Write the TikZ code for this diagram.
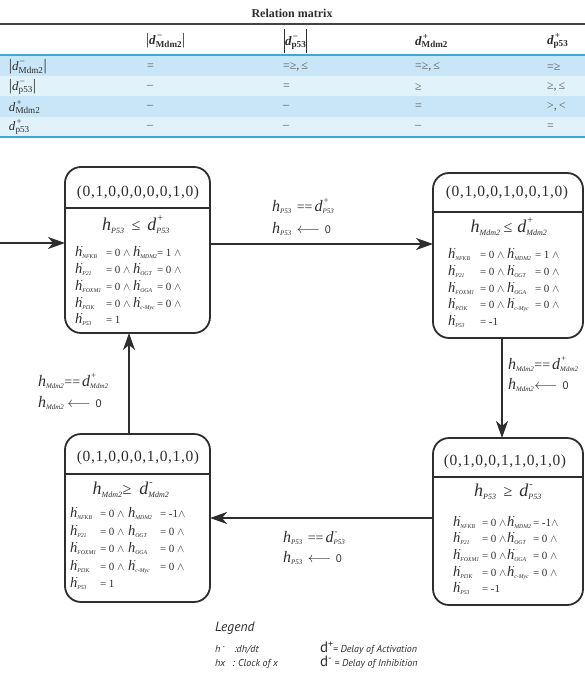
\documentclass[tikz,border=0pt]{standalone}
\usepackage{fontspec}
\setmainfont{Liberation Serif}
\newfontfamily\legendfont{PT Sans}
\newfontfamily\titlefont[LetterSpace=4]{Liberation Serif}
\usetikzlibrary{arrows.meta}
\definecolor{ink}{HTML}{2E2E2E}
\definecolor{datagray}{HTML}{555555}
\definecolor{rowA}{HTML}{C8E6F7}
\definecolor{rowB}{HTML}{E2F2FB}
\definecolor{bluerule}{HTML}{3AA8DE}
\definecolor{toprule}{HTML}{444444}
\newcommand\fs[1]{\fontsize{#1}{#1}\selectfont}
% dotted h with subscript (equation rows)
\newcommand\hd[1]{{\fs{14.5}\textit{h}\rlap{\hspace{-1.6pt}\raisebox{0.6em}{\fs{10}.}}\textsubscript{\fs{5.8}\textit{#1}}}}
\newcommand\hn[1]{{\fs{14.5}\textit{h}\textsubscript{\fs{5.8}\textit{#1}}}}
% condition h and d
\newcommand\hc[1]{{\fs{18}\textit{h}\textsubscript{\fs{8}\textit{#1}}}}
\newcommand\dc[2]{{\fs{18}\textit{d}\rlap{\hspace{1pt}\raisebox{9pt}{\fs{10}#1}}\textsubscript{\fs{8}\textit{#2}}}}
% arrow label h and d
\newcommand\hl[1]{{\fs{16}\textit{h}\textsubscript{\fs{7}\textit{#1}}}}
\newcommand\dl[2]{{\fs{16}\textit{d}\rlap{\hspace{1pt}\raisebox{8pt}{\fs{9}#1}}\textsubscript{\fs{7}\textit{#2}}}}
\newcommand\eqq{{\fs{14}==}}
\newcommand\getsz{{\fs{14}$\longleftarrow$}\hspace{5pt}{\legendfont\fs{11}0}}
% equation row
\newcommand\er[7]{\makebox[#1][l]{#4}\makebox[#2][l]{\fs{11}#5}\makebox[#3][l]{#6}{\fs{11}#7}}
\newcommand\wdg{$\wedge$}
% table symbols
\newcommand\hdrd[2]{\textbf{\textit{d}}\rlap{\hspace{1.2pt}\raisebox{6.5pt}{\fs{9}\textbf{#1}}}\textsubscript{\textbf{#2}}}
\newcommand\rowd[2]{\textit{d}\rlap{\hspace{1.2pt}\raisebox{6.5pt}{\fs{9}#1}}\textsubscript{#2}}
\begin{document}
\begin{tikzpicture}[x=1pt,y=-1pt,
  every node/.style={inner sep=0pt,outer sep=0pt,text=ink},
  statebox/.style={draw=ink,line width=1.8pt,rounded corners=16pt,rectangle,fill=white},
  divider/.style={draw=ink,line width=1.6pt},
  arr/.style={draw=ink,line width=1.8pt,-{Stealth[length=17pt,width=12pt,inset=5pt]}},
  eqrow/.style={anchor=base west},
  lbl/.style={anchor=base west},
  tcell/.style={anchor=west,font=\fs{12}},
  dcell/.style={anchor=west,font=\fs{12},text=datagray},
  boxtitle/.style={font=\titlefont\fs{15.5}},
  legtxt/.style={anchor=base west,font=\legendfont\fs{10}}]
\useasboundingbox (0,0) rectangle (585,679);

% ---------------- Relation matrix ----------------
\node[font=\bfseries\fs{12}] (ttl) at (292,13) {Relation matrix};
\fill[rowA] (0,55) rectangle (585,76);
\fill[rowB] (0,76) rectangle (585,96);
\fill[rowA] (0,96) rectangle (585,117);
\fill[rowB] (0,117) rectangle (585,137);
\draw[toprule,line width=2pt] (0,24) -- (585,24);
\draw[bluerule,line width=2pt] (0,55) -- (585,55);
\draw[bluerule,line width=2pt] (0,137) -- (585,137);

\node[tcell,font=\fs{13}] (h1) at (146,41) {{\fs{16}|}\hdrd{−}{Mdm2}{\fs{16}|}};
\node[tcell,font=\fs{13}] (h2) at (284,41) {\raisebox{-7pt}{\rule{1pt}{24pt}}\hdrd{−}{p53}\raisebox{-7pt}{\rule{1pt}{24pt}}};
\node[tcell,font=\fs{13}] (h3) at (415,41) {\hdrd{+}{Mdm2}};
\node[tcell,font=\fs{13}] (h4) at (547,41) {\hdrd{+}{p53}};

\node[tcell,font=\fs{13}] (r1) at (9,67) {{\fs{16}|}\rowd{−}{Mdm2}{\fs{16}|}};
\node[tcell,font=\fs{13}] (r2) at (9,87) {{\fs{16}|}\rowd{−}{p53}{\fs{16}|}};
\node[tcell,font=\fs{13}] (r3) at (9,107) {\rowd{+}{Mdm2}};
\node[tcell,font=\fs{13}] (r4) at (9,127) {\rowd{+}{p53}};

\node[dcell] (c11) at (147,67) {=};
\node[dcell] (c12) at (283,67) {=≥,\,≤};
\node[dcell] (c13) at (415,67) {=≥,\,≤};
\node[dcell] (c14) at (547,67) {=≥};
\node[dcell] (c21) at (147,87) {–};
\node[dcell] (c22) at (283,87) {=};
\node[dcell] (c23) at (415,87) {≥};
\node[dcell] (c24) at (547,87) {≥,\,≤};
\node[dcell] (c31) at (147,107) {–};
\node[dcell] (c32) at (283,107) {–};
\node[dcell] (c33) at (415,107) {=};
\node[dcell] (c34) at (547,107) {>,\,<};
\node[dcell] (c41) at (147,127) {–};
\node[dcell] (c42) at (283,127) {–};
\node[dcell] (c43) at (415,127) {–};
\node[dcell] (c44) at (547,127) {=};

% ---------------- state boxes ----------------
\node[statebox,minimum width=145pt,minimum height=166pt] (A) at (137.5,250) {};
\node[statebox,minimum width=150pt,minimum height=165pt] (B) at (508,255.5) {};
\node[statebox,minimum width=145pt,minimum height=168pt] (C) at (137.5,518) {};
\node[statebox,minimum width=150pt,minimum height=167pt] (D) at (508,521.5) {};

\coordinate (dA) at (0,208);
\coordinate (dB) at (0,212);
\coordinate (dC) at (0,474);
\coordinate (dD) at (0,477);
\draw[divider] (A.west |- dA) -- (A.east |- dA);
\draw[divider] (B.west |- dB) -- (B.east |- dB);
\draw[divider] (C.west |- dC) -- (C.east |- dC);
\draw[divider] (D.west |- dD) -- (D.east |- dD);

% titles
\node[boxtitle] (tA) at (138,193) {(0,1,0,0,0,0,0,1,0)};
\node[boxtitle] (tB) at (507,193) {(0,1,0,0,1,0,0,1,0)};
\node[boxtitle] (tC) at (138,458) {(0,1,0,0,0,1,0,1,0)};
\node[boxtitle] (tD) at (505,462) {(0,1,0,0,1,1,0,1,0)};

% conditions
\node (kA) at (136,225) {\hc{P53}\hspace{7pt}{\fs{16}≤}\hspace{7pt}\dc{+}{P53}};
\node (kB) at (509,227) {\hc{Mdm2}\hspace{3pt}{\fs{16}≤}\hspace{5pt}\dc{+}{Mdm2}};
\node (kC) at (131,490) {\hc{Mdm2}{\fs{16}≥}\hspace{8pt}\dc{-}{Mdm2}};
\node (kD) at (508,492) {\hc{P53}\hspace{7pt}{\fs{16}≥}\hspace{7pt}\dc{-}{P53}};

% equation rows, box A
\node[eqrow] (A1) at (75,256) {\er{31pt}{27pt}{24pt}{\hd{NFKB}}{= 0 \wdg}{\hd{MDM2}}{= 1 \wdg}};
\node[eqrow] (A2) at (75,273) {\er{31pt}{27pt}{24pt}{\hd{P21}}{= 0 \wdg}{\hd{OGT}}{= 0 \wdg}};
\node[eqrow] (A3) at (75,290) {\er{31pt}{27pt}{24pt}{\hd{FOXM1}}{= 0 \wdg}{\hd{OGA}}{= 0 \wdg}};
\node[eqrow] (A4) at (75,307) {\er{31pt}{27pt}{24pt}{\hd{PI3K}}{= 0 \wdg}{\hd{c-Myc}}{= 0 \wdg}};
\node[eqrow] (A5) at (75,323) {\er{31pt}{27pt}{24pt}{\hd{P53}}{= 1}{}{}};

% box B
\node[eqrow] (B1) at (448,258) {\er{32pt}{27pt}{28pt}{\hd{NFKB}}{= 0 \wdg}{\hd{MDM2}}{= 1 \wdg}};
\node[eqrow] (B2) at (448,275) {\er{32pt}{27pt}{28pt}{\hd{P21}}{= 0 \wdg}{\hd{OGT}}{= 0 \wdg}};
\node[eqrow] (B3) at (448,292) {\er{32pt}{27pt}{28pt}{\hd{FOXM1}}{= 0 \wdg}{\hd{OGA}}{= 0 \wdg}};
\node[eqrow] (B4) at (448,308) {\er{32pt}{27pt}{28pt}{\hd{PI3K}}{= 0 \wdg}{\hd{c-Myc}}{= 0 \wdg}};
\node[eqrow] (B5) at (448,325) {\er{32pt}{27pt}{28pt}{\hd{P53}}{= -1}{}{}};

% box C
\node[eqrow] (C1) at (70,517) {\er{30pt}{28pt}{32pt}{\hd{NFKB}}{= 0 \wdg}{\hn{MDM2}}{= -1\wdg}};
\node[eqrow] (C2) at (70,535) {\er{30pt}{28pt}{32pt}{\hd{P21}}{= 0 \wdg}{\hn{OGT}}{= 0 \wdg}};
\node[eqrow] (C3) at (70,552) {\er{30pt}{28pt}{32pt}{\hd{FOXM1}}{= 0 \wdg}{\hn{OGA}}{= 0 \wdg}};
\node[eqrow] (C4) at (70,570) {\er{30pt}{28pt}{32pt}{\hd{PI3K}}{= 0 \wdg}{\hd{c-Myc}}{= 0 \wdg}};
\node[eqrow] (C5) at (70,587) {\er{30pt}{28pt}{32pt}{\hd{P53}}{= 1}{}{}};

% box D
\node[eqrow] (D1) at (453,526) {\er{29pt}{25pt}{26pt}{\hd{NFKB}}{= 0 \wdg}{\hd{MDM2}}{= -1\wdg}};
\node[eqrow] (D2) at (453,542) {\er{29pt}{25pt}{26pt}{\hd{P21}}{= 0 \wdg}{\hd{OGT}}{= 0 \wdg}};
\node[eqrow] (D3) at (453,559) {\er{29pt}{25pt}{26pt}{\hd{FOXM1}}{= 0 \wdg}{\hd{OGA}}{= 0 \wdg}};
\node[eqrow] (D4) at (453,576) {\er{29pt}{25pt}{26pt}{\hd{PI3K}}{= 0 \wdg}{\hd{c-Myc}}{= 0 \wdg}};
\node[eqrow] (D5) at (453,592) {\er{29pt}{25pt}{26pt}{\hd{P53}}{= -1}{}{}};

% ---------------- connectors ----------------
\coordinate (start) at (0,243);
\coordinate (yAB) at (0,244);
\coordinate (xBD) at (502,0);
\coordinate (yDC) at (0,518);
\coordinate (xCA) at (129,0);
\draw[arr] (start) -- (A.west |- start);
\draw[arr] (A.east |- yAB) -- (B.west |- yAB);
\draw[arr] (B.south -| xBD) -- (D.north -| xBD);
\draw[arr] (D.west |- yDC) -- (C.east |- yDC);
\draw[arr] (C.north -| xCA) -- (A.south -| xCA);

% arrow labels
\node[lbl] (L1a) at (272,211) {\hl{P53}\hspace{5pt}\eqq\hspace{2pt}\dl{+}{P53}};
\node[lbl] (L1b) at (272,233) {\hl{P53}\hspace{5pt}\getsz};
\node[lbl] (L2a) at (508,369) {\hl{Mdm2}\eqq\hspace{2pt}\dl{+}{Mdm2}};
\node[lbl] (L2b) at (508,389) {\hl{Mdm2}\getsz};
\node[lbl] (L3a) at (283,542) {\hl{P53}\hspace{5pt}\eqq\hspace{2pt}\dl{-}{P53}};
\node[lbl] (L3b) at (283,562) {\hl{P53}\hspace{5pt}\getsz};
\node[lbl] (L4a) at (38,386) {\hl{Mdm2}\eqq\hspace{2pt}\dl{+}{Mdm2}};
\node[lbl] (L4b) at (38,407) {\hl{Mdm2}\hspace{3pt}\getsz};

% ---------------- legend ----------------
\node[legtxt,font=\legendfont\itshape\fs{13.5}] (lgT) at (215,631) {Legend};
\node[legtxt] (lg1) at (215,652) {\makebox[19pt][l]{\textit{h}\hspace{2.5pt}\raisebox{5pt}{.}}\textit{:dh/dt}};
\node[legtxt] (lg2) at (215,666) {\makebox[17pt][l]{\textit{hx}}\textit{: Clock of x}};
\node[legtxt] (lg3) at (320,652) {{\fs{15}d}\raisebox{5pt}{\fs{10}+}\textit{= Delay of Activation}};
\node[legtxt] (lg4) at (320,666) {{\fs{15}d}\raisebox{5pt}{\fs{10}-}\hspace{3pt}\textit{= Delay of Inhibition}};
\end{tikzpicture}
\end{document}
